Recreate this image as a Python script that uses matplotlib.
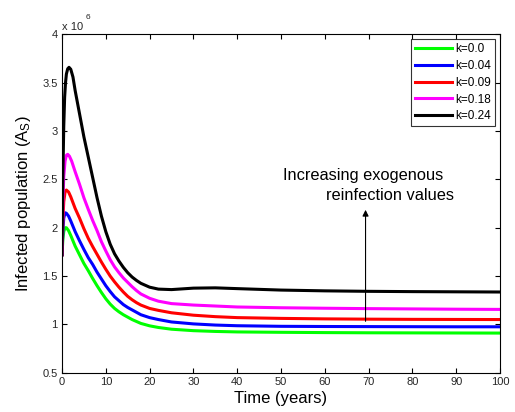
import matplotlib
matplotlib.use("Agg")
import matplotlib.pyplot as plt

plt.rcParams['font.family'] = ['Liberation Sans', 'DejaVu Sans']
plt.rcParams['mathtext.fontset'] = 'custom'
plt.rcParams['mathtext.rm'] = 'Liberation Sans'
plt.rcParams['mathtext.it'] = 'Liberation Sans'

# Infected population (in millions) over time for each exogenous reinfection rate k
labels = ["k=0.0", "k=0.04", "k=0.09", "k=0.18", "k=0.24"]
colors = ["#00ff00", "#0000ff", "#ff0000", "#ff00ff", "#000000"]

t_k000 = [0, 0.2, 0.4, 0.7, 1.0, 1.5, 2, 3, 4, 5, 6, 7, 8, 9, 10, 11, 12, 13, 14, 15, 16, 17, 18, 20, 22, 25, 30, 35, 40, 50, 60, 70, 80, 90, 100]
a_k000 = [1.72, 1.88, 1.96, 2.00, 2.00, 1.97, 1.92, 1.81, 1.72, 1.63, 1.555, 1.475, 1.40, 1.33, 1.265, 1.21, 1.165, 1.13, 1.10, 1.075, 1.05, 1.03, 1.01, 0.985, 0.968, 0.95, 0.935, 0.927, 0.922, 0.918, 0.915, 0.913, 0.912, 0.911, 0.91]

t_k004 = [0, 0.2, 0.4, 0.7, 1.0, 1.5, 2, 3, 4, 5, 6, 7, 8, 9, 10, 11, 12, 13, 14, 15, 16, 17, 18, 20, 22, 25, 30, 35, 40, 50, 60, 70, 80, 90, 100]
a_k004 = [1.72, 1.97, 2.10, 2.155, 2.15, 2.12, 2.07, 1.96, 1.865, 1.775, 1.69, 1.62, 1.54, 1.47, 1.40, 1.34, 1.285, 1.245, 1.205, 1.175, 1.15, 1.125, 1.10, 1.07, 1.05, 1.025, 1.005, 0.993, 0.986, 0.98, 0.978, 0.977, 0.976, 0.975, 0.975]

t_k009 = [0, 0.2, 0.4, 0.7, 1.0, 1.5, 2, 3, 4, 5, 6, 7, 8, 9, 10, 11, 12, 13, 14, 15, 16, 17, 18, 20, 22, 25, 30, 35, 40, 50, 60, 70, 80, 90, 100]
a_k009 = [1.72, 2.08, 2.27, 2.37, 2.39, 2.37, 2.32, 2.20, 2.10, 1.99, 1.89, 1.805, 1.725, 1.645, 1.57, 1.50, 1.44, 1.385, 1.335, 1.29, 1.255, 1.225, 1.20, 1.165, 1.145, 1.12, 1.095, 1.08, 1.07, 1.062, 1.057, 1.054, 1.052, 1.051, 1.05]

t_k018 = [0, 0.2, 0.4, 0.7, 1.0, 1.3, 1.7, 2.2, 3, 4, 5, 6, 7, 8, 9, 10, 11, 12, 13, 14, 15, 16, 17, 18, 20, 22, 25, 30, 35, 40, 50, 60, 70, 80, 90, 100]
a_k018 = [1.72, 2.25, 2.53, 2.69, 2.75, 2.76, 2.74, 2.69, 2.58, 2.45, 2.31, 2.19, 2.075, 1.97, 1.855, 1.76, 1.67, 1.595, 1.535, 1.48, 1.435, 1.39, 1.35, 1.315, 1.27, 1.24, 1.215, 1.20, 1.19, 1.18, 1.172, 1.167, 1.163, 1.16, 1.157, 1.155]

t_k024 = [0, 0.2, 0.4, 0.6, 0.8, 1.0, 1.3, 1.6, 2.0, 2.5, 3, 4, 5, 6, 7, 8, 9, 10, 11, 12, 13, 14, 15, 16, 17, 18, 20, 22, 25, 30, 35, 40, 50, 60, 70, 80, 90, 100]
a_k024 = [1.72, 2.55, 3.05, 3.35, 3.50, 3.59, 3.645, 3.66, 3.64, 3.56, 3.42, 3.18, 2.94, 2.73, 2.52, 2.31, 2.12, 1.96, 1.83, 1.73, 1.655, 1.59, 1.535, 1.49, 1.455, 1.425, 1.385, 1.365, 1.36, 1.375, 1.378, 1.37, 1.355, 1.347, 1.342, 1.339, 1.337, 1.335]

times = [t_k000, t_k004, t_k009, t_k018, t_k024]
values = [a_k000, a_k004, a_k009, a_k018, a_k024]

fig = plt.figure(figsize=(5.15, 4.12), dpi=100)
ax = fig.add_axes([0.1204, 0.0954, 0.8505, 0.8209])

for t, a, c, lab in zip(times, values, colors, labels):
    ax.plot(t, a, color=c, lw=2.2, label=lab, solid_joinstyle='round')

ax.set_xlim(0, 100)
ax.set_ylim(0.5, 4)
ax.set_xticks(range(0, 101, 10))
ax.set_yticks([0.5, 1, 1.5, 2, 2.5, 3, 3.5, 4])
ax.set_yticklabels(["0.5", "1", "1.5", "2", "2.5", "3", "3.5", "4"])
ax.tick_params(direction='in', top=True, right=True, length=3.5, width=0.8,
               labelsize=8, colors='black', labelcolor='#262626', pad=3)
for s in ax.spines.values():
    s.set_linewidth(0.8)

ax.set_xlabel("Time (years)", fontsize=12, labelpad=3)
ax.set_ylabel("Infected population (A$_\\mathregular{S}$)", fontsize=12, labelpad=7)

# exponent marker above the y axis
ax.text(0.0, 1.0133, "x 10", transform=ax.transAxes, fontsize=8, color='#262626',
        ha='left', va='baseline')
ax.text(0.053, 1.046, "6", transform=ax.transAxes, fontsize=6, color='#262626',
        ha='left', va='baseline')

leg = ax.legend(loc='upper right', fontsize=8.5, frameon=True, fancybox=False,
                edgecolor='black', handlelength=3.1, handletextpad=0.3,
                borderpad=0.35, labelspacing=0.4, borderaxespad=0.4)
leg.get_frame().set_linewidth(0.8)

ax.annotate("", xy=(69.3, 2.214), xytext=(69.3, 1.003),
            arrowprops=dict(arrowstyle='-|>', color='black', lw=0.8,
                            mutation_scale=9))
ax.text(50.4, 2.538, "Increasing exogenous", fontsize=11.8, ha='left', va='center')
ax.text(60.2, 2.331, "reinfection values", fontsize=11.8, ha='left', va='center')

fig.savefig("out.png", dpi=100)
